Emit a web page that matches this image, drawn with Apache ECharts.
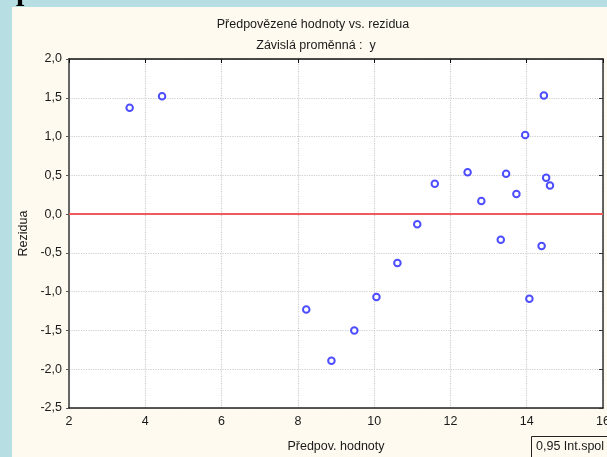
<!DOCTYPE html>
<html><head><meta charset="utf-8">
<script src="https://cdn.jsdelivr.net/npm/echarts@6/dist/echarts.min.js"></script>
<style>html,body{margin:0;padding:0;background:#b7dfe3;}#c{width:607px;height:457px;}</style>
</head><body><div id="c"></div>
<script>
const titleMain = 'Předpovězené hodnoty vs. rezidua';
const titleSub = 'Závislá proměnná :  y';
const xName = 'Předpov. hodnoty';
const yName = 'Rezidua';
const legendText = '0,95 Int.spol';
const predicted = [3.59, 4.44, 8.22, 8.88, 9.48, 10.06, 10.61, 11.13, 11.59, 12.45, 12.81, 13.32, 13.46, 13.73, 13.96, 14.07, 14.39, 14.45, 14.51, 14.61];
const residuals = [1.37, 1.52, -1.23, -1.89, -1.50, -1.07, -0.63, -0.13, 0.39, 0.54, 0.17, -0.33, 0.52, 0.26, 1.02, -1.09, -0.41, 1.53, 0.47, 0.37];
const xMin = 2, xMax = 16, xStep = 2;
const yMin = -2.5, yMax = 2, yStep = 0.5;
const refLine = 0;

const font = 'Liberation Sans, Arial, sans-serif';
const fs = 12.5;
const chart = echarts.init(document.getElementById('c'));
const pts = predicted.map((x, i) => [x, residuals[i]]);
const fmtY = v => v.toFixed(1).replace('.', ',');
chart.setOption({
  animation: false,
  backgroundColor: '#b7dfe3',
  textStyle: {fontFamily: font},
  graphic: [
    {type: 'rect', z: -10, shape: {x: 12, y: 7, width: 600, height: 460}, style: {fill: '#fffaef'}},
    {type: 'text', z: 10, x: 16, y: 7, style: {text: 'p', font: 'bold 30px Liberation Serif', fill: '#000', textVerticalAlign: 'bottom'}},
    {type: 'text', x: 313, y: 25, style: {text: titleMain, font: fs + 'px ' + font, fill: '#1a1a1a', textAlign: 'center', textVerticalAlign: 'middle'}},
    {type: 'text', x: 316, y: 46, style: {text: titleSub, font: fs + 'px ' + font, fill: '#1a1a1a', textAlign: 'center', textVerticalAlign: 'middle'}},
    {type: 'rect', shape: {x: 531.5, y: 436.5, width: 100, height: 30}, style: {fill: '#fffaef', stroke: '#222', lineWidth: 1}},
    {type: 'text', x: 536, y: 447, style: {text: legendText, font: fs + 'px ' + font, fill: '#1a1a1a', textVerticalAlign: 'middle'}}
  ],
  grid: {left: 69, top: 59, width: 534, height: 349, show: true, backgroundColor: '#fff', borderWidth: 0, outerBoundsMode: 'none', containLabel: false},
  xAxis: [{
    type: 'value', min: xMin, max: xMax, interval: xStep, position: 'bottom',
    name: xName, nameLocation: 'middle', nameGap: 32,
    nameTextStyle: {fontSize: fs, color: '#1a1a1a'},
    axisLine: {onZero: false, lineStyle: {color: '#222', width: 1.5}},
    axisTick: {show: false},
    axisLabel: {fontSize: fs, color: '#1a1a1a', margin: 7},
    splitLine: {show: true, lineStyle: {type: 'dotted', color: '#cdcdcd', width: 1.2}}
  }, {
    type: 'value', min: xMin, max: xMax, interval: xStep, position: 'top',
    axisLine: {onZero: false, lineStyle: {color: '#111', width: 1.5}},
    axisTick: {inside: true, length: 4, lineStyle: {color: '#111'}},
    axisLabel: {show: false}, splitLine: {show: false}
  }],
  yAxis: [{
    type: 'value', min: yMin, max: yMax, interval: yStep, position: 'left',
    name: yName, nameLocation: 'middle', nameGap: 35, nameRotate: 90,
    nameTextStyle: {fontSize: fs, color: '#1a1a1a'},
    axisLine: {onZero: false, lineStyle: {color: '#666', width: 2}},
    axisTick: {show: true, length: 3, lineStyle: {color: '#555'}},
    axisLabel: {fontSize: fs, color: '#1a1a1a', margin: 7, formatter: fmtY},
    splitLine: {show: true, lineStyle: {type: 'dotted', color: '#cdcdcd', width: 1.2}}
  }, {
    type: 'value', min: yMin, max: yMax, interval: yStep, position: 'right',
    axisLine: {onZero: false, lineStyle: {color: '#333', width: 1.5}},
    axisTick: {inside: true, length: 4, lineStyle: {color: '#333'}},
    axisLabel: {show: false}, splitLine: {show: false}
  }],
  series: [{
    type: 'scatter', data: pts, symbol: 'emptyCircle', symbolSize: 6.5,
    itemStyle: {color: '#2020ff', borderWidth: 1.1},
    z: 5,
    markLine: {
      silent: true, symbol: 'none', label: {show: false},
      lineStyle: {color: '#f05a5a', width: 2, type: 'solid'},
      data: [{yAxis: refLine}]
    }
  }]
});
</script></body></html>
